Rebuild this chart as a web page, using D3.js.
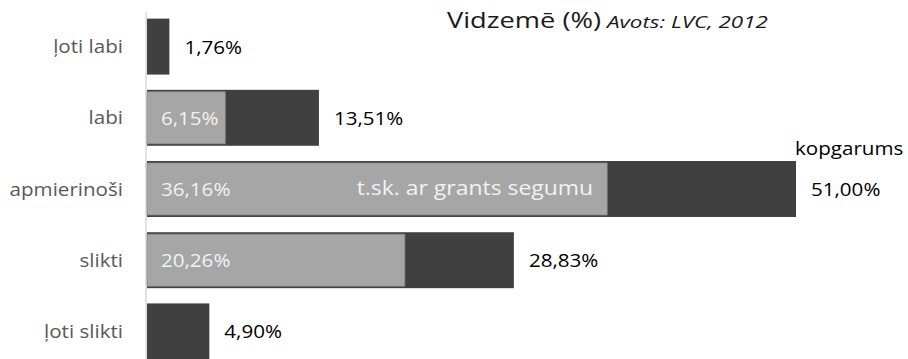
<!DOCTYPE html>
<html>
<head>
<meta charset="utf-8">
<script src="https://cdn.jsdelivr.net/npm/d3@7"></script>
<style>
  html, body { margin: 0; padding: 0; background: #fff; }
  svg { display: block; font-family: "Open Sans", sans-serif; }
</style>
</head>
<body>
<svg id="chart" width="908" height="359"></svg>
<script>
// Road condition categories and shares (%)
const categories = ["ļoti labi", "labi", "apmierinoši", "slikti", "ļoti slikti"];
const totalShare = [1.76, 13.51, 51.00, 28.83, 4.90];      // kopgarums
const gravelShare = [null, 6.15, 36.16, 20.26, null];      // t.sk. ar grants segumu
const seriesNames = ["kopgarums", "t.sk. ar grants segumu"];
const titleMain = "Vidzemē (%)";
const titleSource = "Avots: LVC, 2012";

const fmt = v => d3.format(".2f")(v).replace(".", ",") + "%";

const svg = d3.select("#chart");
const x = d3.scaleLinear().domain([0, d3.max(totalShare)]).range([147, 796]);
const y = d3.scaleBand().domain(categories).range([11, 367])
  .paddingInner(0.214).paddingOuter(0.107);

const rows = categories.map((c, i) => ({ cat: c, total: totalShare[i], gravel: gravelShare[i] }));
const SX = 1.17; // horizontal widening of text glyphs

function label(g, xPos, yPos, txt, opts) {
  return g.append("text")
    .attr("transform", `translate(${xPos},${yPos}) scale(${opts.sx || SX},1)`)
    .attr("text-anchor", opts.anchor || "start")
    .attr("font-size", opts.size || 17.6)
    .attr("font-style", opts.style || "normal")
    .attr("fill", opts.fill || "#000")
    .text(txt);
}

// vertical category axis line
svg.append("line")
  .attr("x1", 146).attr("x2", 146)
  .attr("y1", 12).attr("y2", 359)
  .attr("stroke", "#d9d9d9").attr("stroke-width", 1.5);

// total bars
svg.append("g").selectAll("rect").data(rows).join("rect")
  .attr("x", x(0)).attr("y", d => y(d.cat))
  .attr("width", d => x(d.total) - x(0))
  .attr("height", y.bandwidth())
  .attr("fill", "#404040");

// gravel bars, drawn over the totals
svg.append("g").selectAll("rect").data(rows.filter(d => d.gravel != null)).join("rect")
  .attr("x", x(0)).attr("y", d => y(d.cat) + 2)
  .attr("width", d => x(d.gravel) - x(0))
  .attr("height", y.bandwidth() - 4)
  .attr("fill", "#a6a6a6")
  .attr("stroke", "#8a8a8a").attr("stroke-width", 0.8);

const labels = svg.append("g");

// category labels
rows.forEach(d => {
  label(labels, 123, y(d.cat) + y.bandwidth() / 2 + 6.5, d.cat,
    { anchor: "end", fill: "#595959" });
});

// total value labels
rows.forEach(d => {
  label(labels, x(d.total) + 15, y(d.cat) + y.bandwidth() / 2 + 7, fmt(d.total), {});
});

// gravel value labels inside the bars
rows.filter(d => d.gravel != null).forEach(d => {
  label(labels, x(0) + 14, y(d.cat) + y.bandwidth() / 2 + 7, fmt(d.gravel), { fill: "#f2f2f2" });
});

// series names next to the largest bar
const big = rows[2];
label(labels, x(big.total) - 1, y(big.cat) - 6, seriesNames[0], {});
label(labels, x(big.gravel) - 14, y(big.cat) + y.bandwidth() / 2 + 6, seriesNames[1],
  { anchor: "end", fill: "#f2f2f2", size: 19.6 });

// title with source note
label(svg, 447, 28, titleMain, { size: 22.7, sx: 1.2, fill: "#1a1a1a" });
label(svg, 607, 28, titleSource, { size: 16, sx: 1.4, style: "italic", fill: "#1a1a1a" });
</script>
</body>
</html>
